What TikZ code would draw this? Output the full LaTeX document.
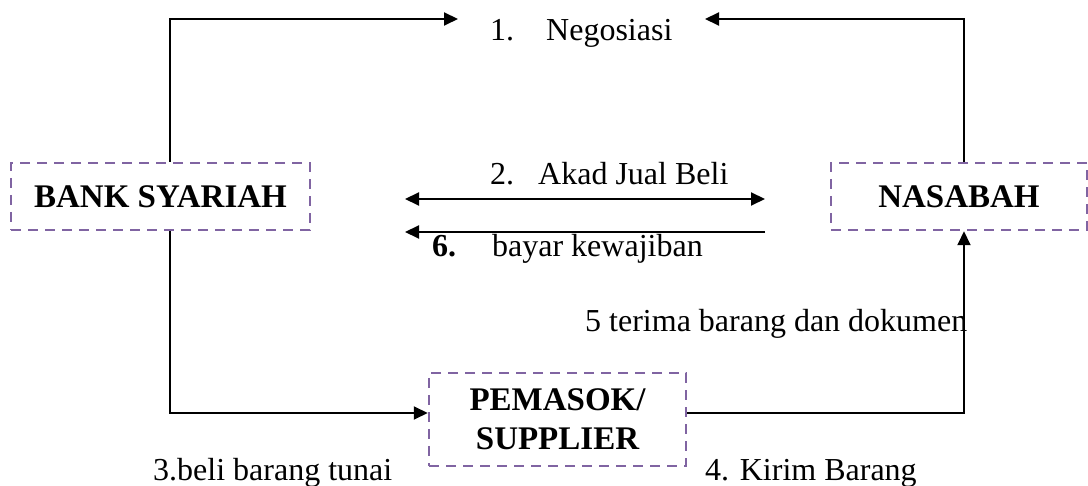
\documentclass[tikz,border=0pt]{standalone}
\usepackage{fontspec}
\setmainfont{Liberation Serif}
\usetikzlibrary{arrows.meta}
\definecolor{boxpurple}{HTML}{8064A2}
\begin{document}
\begin{tikzpicture}[x=1pt,y=-1pt,
  ent/.style={draw=boxpurple, line width=2.5pt, dash pattern=on 10pt off 7pt,
    inner sep=0pt, font=\fontsize{33}{39}\selectfont\bfseries, align=center},
  conn/.style={line width=2pt},
  tip/.style={-{Triangle[length=14pt,width=13pt]}},
  dtip/.style={{Triangle[length=14pt,width=13pt]}-{Triangle[length=14pt,width=13pt]}},
  lbl/.style={inner sep=0pt, anchor=base west, font=\fontsize{32}{36}\selectfont}]
\useasboundingbox (0,0) rectangle (1088,486);
\node[ent, minimum width=299pt, minimum height=67pt] (bank) at (160.5,196.5) {BANK SYARIAH};
\node[ent, minimum width=256pt, minimum height=67pt] (nas) at (959,196.5) {NASABAH};
\node[ent, minimum width=257pt, minimum height=93pt] (sup) at (557.5,419.5) {PEMASOK/\\SUPPLIER};
\coordinate (negL) at (458,19);
\coordinate (negR) at (705,19);
\coordinate (akL) at (405,199);
\coordinate (akR) at (765,199);
\coordinate (byL) at (405,232);
\coordinate (byR) at (765,232);
\draw[conn,tip] ([xshift=9.5pt]bank.north) |- (negL);
\draw[conn,tip] ([xshift=5pt]nas.north) |- (negR);
\draw[conn,dtip] (akL) -- (akR);
\draw[conn,tip] (byR) -- (byL);
\draw[conn,tip] ([xshift=9.5pt]bank.south) |- ([yshift=6.5pt]sup.west);
\draw[conn,tip] ([yshift=6.5pt]sup.east) -| ([xshift=5pt]nas.south);
\node[lbl] (t1) at (490,41) {1.\hspace{32pt}Negosiasi};
\node[lbl] (t2) at (490,185) {2.\hspace{24pt}Akad Jual Beli};
\node[lbl] (t6) at (432,257) {\textbf{6.}\hspace{36pt}bayar kewajiban};
\node[lbl] (t5) at (585,332) {5 terima barang dan dokumen};
\node[lbl] (t3) at (153,480) {3.beli barang tunai};
\node[lbl] (t4) at (705,480) {4. Kirim Barang};
\end{tikzpicture}
\end{document}
